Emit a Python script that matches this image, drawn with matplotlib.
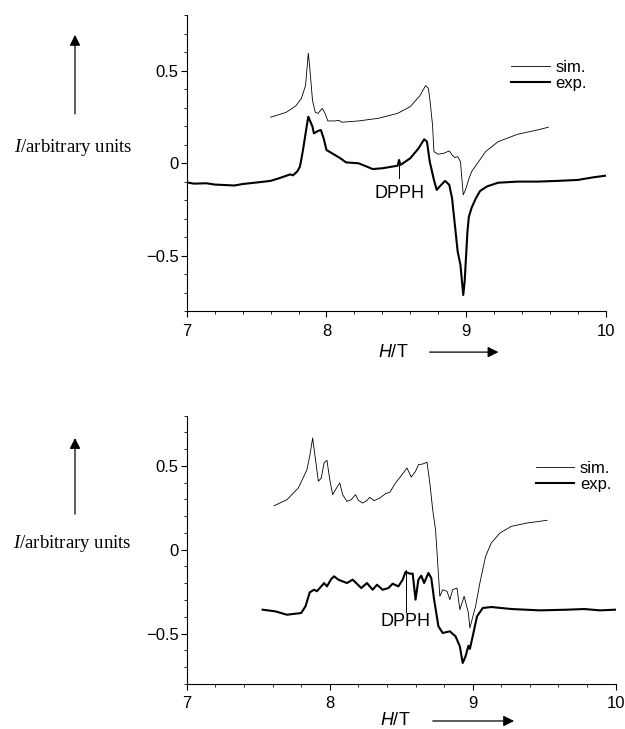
import matplotlib.pyplot as plt
from matplotlib.ticker import MultipleLocator

plt.rcParams["font.family"] = ["Liberation Sans", "DejaVu Sans"]
plt.rcParams["mathtext.fontset"] = "custom"
plt.rcParams["mathtext.it"] = "Liberation Serif:italic"
plt.rcParams["mathtext.rm"] = "Liberation Serif"
plt.rcParams["mathtext.sf"] = "Liberation Sans:italic"

# top spectrum
top_sim_h = [7.60, 7.71, 7.78, 7.82, 7.85, 7.87, 7.88, 7.90, 7.92, 7.94, 7.97, 7.99,
             8.01, 8.06, 8.09, 8.11, 8.23, 8.37, 8.51, 8.60, 8.67, 8.71, 8.73, 8.74,
             8.76, 8.77, 8.80, 8.84, 8.88, 8.90, 8.92, 8.94, 8.96, 8.98, 9.00, 9.02, 9.04,
             9.09, 9.14, 9.23, 9.37, 9.51, 9.59]
top_sim_i = [0.249, 0.275, 0.31, 0.35, 0.42, 0.595, 0.52, 0.34, 0.275, 0.27, 0.297, 0.27,
             0.229, 0.229, 0.232, 0.222, 0.229, 0.243, 0.27, 0.306, 0.366, 0.42, 0.405, 0.35,
             0.207, 0.063, 0.049, 0.054, 0.067, 0.045, 0.031, 0.036, 0.009, -0.171, -0.135, -0.085, -0.045,
             0.009, 0.063, 0.117, 0.157, 0.18, 0.195]

top_exp_h = [7.00, 7.05, 7.14, 7.20, 7.34, 7.40, 7.51, 7.60, 7.66, 7.74, 7.76, 7.79, 7.81,
             7.83, 7.86, 7.87, 7.90, 7.91, 7.94, 7.96, 7.98, 8.00, 8.04, 8.10, 8.14,
             8.23, 8.29, 8.33, 8.40, 8.51, 8.52, 8.53, 8.60, 8.66, 8.70, 8.72, 8.74,
             8.77, 8.79, 8.81, 8.85, 8.88, 8.90, 8.92, 8.94, 8.96, 8.98, 8.99, 9.01,
             9.02, 9.04, 9.07, 9.10, 9.15, 9.23, 9.37, 9.51, 9.66, 9.80, 9.91, 10.0]
top_exp_i = [-0.103, -0.110, -0.108, -0.115, -0.120, -0.112, -0.103, -0.095, -0.081, -0.060, -0.065, -0.045, -0.018,
             0.063, 0.207, 0.252, 0.198, 0.162, 0.175, 0.180, 0.135, 0.072, 0.054, 0.027, 0.005,
             0.0, -0.018, -0.031, -0.027, -0.013, 0.018, -0.009, 0.027, 0.081, 0.130, 0.117, 0.009,
             -0.090, -0.144, -0.126, -0.095, -0.117, -0.190, -0.333, -0.477, -0.550, -0.712, -0.640, -0.369,
             -0.290, -0.240, -0.190, -0.150, -0.125, -0.105, -0.099, -0.099, -0.095, -0.090, -0.076, -0.067]

# bottom spectrum
bot_sim_h = [7.61, 7.70, 7.78, 7.84, 7.86, 7.88, 7.90, 7.92, 7.94, 7.96, 7.98, 8.00, 8.02,
             8.04, 8.07, 8.09, 8.12, 8.15, 8.18, 8.20, 8.23, 8.26, 8.28, 8.31, 8.35,
             8.39, 8.42, 8.46, 8.50, 8.54, 8.57, 8.60, 8.62, 8.65, 8.68, 8.70, 8.72,
             8.74, 8.77, 8.79, 8.82, 8.84, 8.86, 8.89, 8.91, 8.94, 8.97, 8.98, 9.02,
             9.05, 9.09, 9.13, 9.19, 9.27, 9.38, 9.52]
bot_sim_i = [0.262, 0.298, 0.368, 0.477, 0.56, 0.666, 0.537, 0.408, 0.427, 0.517, 0.533, 0.417, 0.328,
             0.358, 0.398, 0.328, 0.288, 0.298, 0.328, 0.294, 0.278, 0.294, 0.312, 0.292, 0.308,
             0.334, 0.342, 0.398, 0.441, 0.487, 0.433, 0.467, 0.507, 0.511, 0.521, 0.398, 0.239,
             0.119, -0.278, -0.239, -0.248, -0.298, -0.239, -0.229, -0.358, -0.278, -0.378, -0.467, -0.338,
             -0.199, -0.040, 0.040, 0.099, 0.139, 0.159, 0.175]

bot_exp_h = [7.53, 7.62, 7.70, 7.80, 7.83, 7.86, 7.89, 7.91, 7.94, 7.96, 7.98, 8.01, 8.03,
             8.06, 8.09, 8.12, 8.16, 8.18, 8.22, 8.26, 8.30, 8.33, 8.37, 8.41, 8.44,
             8.48, 8.51, 8.53, 8.56, 8.58, 8.60, 8.62, 8.64, 8.66, 8.69, 8.71, 8.73,
             8.76, 8.79, 8.84, 8.88, 8.91, 8.93, 8.95, 8.97, 8.98, 9.00, 9.03, 9.07,
             9.13, 9.27, 9.47, 9.66, 9.78, 9.89, 10.0]
bot_exp_i = [-0.358, -0.368, -0.388, -0.378, -0.338, -0.254, -0.239, -0.248, -0.219, -0.199, -0.219, -0.175, -0.159,
             -0.179, -0.189, -0.199, -0.179, -0.195, -0.229, -0.199, -0.239, -0.209, -0.239, -0.229, -0.203,
             -0.219, -0.179, -0.133, -0.143, -0.143, -0.298, -0.179, -0.155, -0.199, -0.139, -0.169, -0.298,
             -0.457, -0.497, -0.487, -0.517, -0.577, -0.676, -0.636, -0.573, -0.592, -0.517, -0.398, -0.348,
             -0.342, -0.354, -0.362, -0.358, -0.354, -0.362, -0.358]

panels = [
    dict(rect=[0.299, 0.573, 0.670, 0.406], sim=(top_sim_h, top_sim_i), exp=(top_exp_h, top_exp_i),
         dpph=(8.52, -0.01, -0.08, -0.165), leg=(0.818, 0.918),
         ylab=(0.117, 0.798), yarr=(0.840, 0.956), xlab=(0.629, 0.517), xarr=(0.683, 0.802)),
    dict(rect=[0.299, 0.062, 0.686, 0.368], sim=(bot_sim_h, bot_sim_i), exp=(bot_exp_h, bot_exp_i),
         dpph=(8.53, -0.12, -0.37, -0.43), leg=(0.857, 0.368),
         ylab=(0.115, 0.255), yarr=(0.291, 0.403), xlab=(0.632, 0.011), xarr=(0.688, 0.827)),
]

fig = plt.figure(figsize=(6.25, 7.29), dpi=100)

for p in panels:
    ax = fig.add_axes(p["rect"])
    ax.plot(*p["sim"], color="black", lw=0.6, label="sim.")
    ax.plot(*p["exp"], color="black", lw=1.5, label="exp.")
    ax.set_xlim(7, 10)
    ax.set_ylim(-0.8, 0.8)
    ax.set_xticks([7, 8, 9, 10])
    ax.set_yticks([-0.5, 0, 0.5])
    ax.set_yticklabels(["\u22120.5", "0", "0.5"])
    ax.xaxis.set_minor_locator(MultipleLocator(0.2))
    ax.yaxis.set_minor_locator(MultipleLocator(0.1))
    ax.tick_params(which="major", length=4, width=0.8, labelsize=12)
    ax.tick_params(which="minor", length=2, width=0.6)
    ax.tick_params(axis="x", pad=5)
    ax.tick_params(axis="y", pad=2)
    for s in ["top", "right"]:
        ax.spines[s].set_visible(False)
    for s in ["left", "bottom"]:
        ax.spines[s].set_linewidth(0.8)

    dx, y0, y1, yt = p["dpph"]
    ax.plot([dx, dx], [y0, y1], color="black", lw=0.7)
    ax.text(dx, yt, "DPPH", ha="center", va="center", fontsize=13)

    ax.legend(frameon=False, loc="upper left", bbox_to_anchor=p["leg"],
              bbox_transform=fig.transFigure, fontsize=12, handlelength=2.3,
              handletextpad=0.35, labelspacing=0.05, borderpad=0, borderaxespad=0)

    lx, ly = p["ylab"]
    fig.text(lx, ly, "$I$/arbitrary units", ha="center", va="center",
             fontsize=13.5, family="Liberation Serif")
    fig.patches.append(plt.matplotlib.patches.FancyArrowPatch(
        (0.12, p["yarr"][0]), (0.12, p["yarr"][1]), transform=fig.transFigure,
        arrowstyle="-|>", mutation_scale=16, lw=0.9, color="black"))

    tx, ty = p["xlab"]
    fig.text(tx, ty, r"$\mathsf{H}$/T", ha="center", va="center", fontsize=13)
    fig.patches.append(plt.matplotlib.patches.FancyArrowPatch(
        (p["xarr"][0], ty), (p["xarr"][1], ty), transform=fig.transFigure,
        arrowstyle="-|>", mutation_scale=16, lw=0.9, color="black"))

fig.savefig("out.png", dpi=100)
